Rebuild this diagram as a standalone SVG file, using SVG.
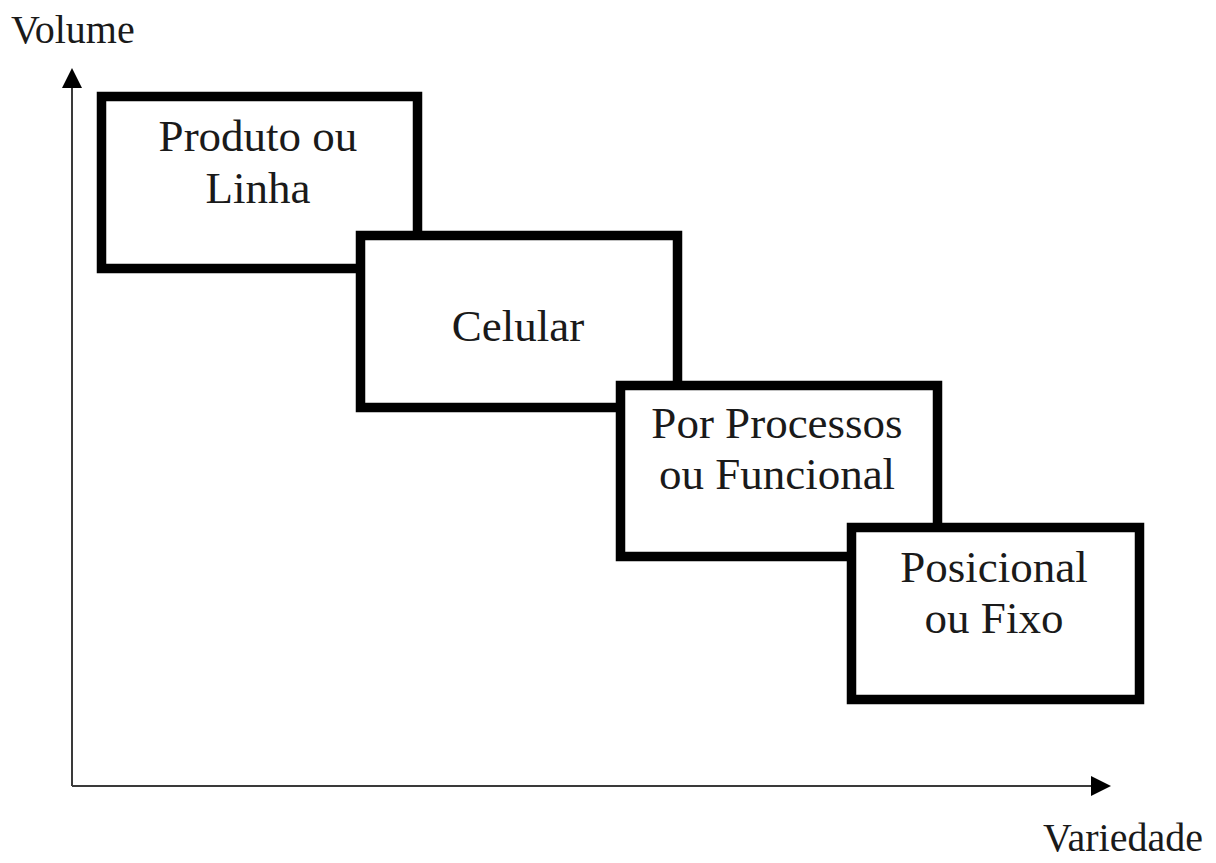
<svg xmlns="http://www.w3.org/2000/svg" width="1216" height="863" viewBox="0 0 1216 863">
<style>
  .box { fill: #ffffff; stroke: #000000; stroke-width: 9.5; }
  .lbl { font-family: "Liberation Serif", "Times New Roman", serif; font-size: 45px; fill: #1a1a1a; text-anchor: middle; }
  .ax { font-family: "Liberation Serif", "Times New Roman", serif; font-size: 40px; fill: #1a1a1a; }
  .axis { stroke: #3a3a3a; stroke-width: 2; fill: none; }
</style>
<defs>
  <marker id="arr" viewBox="0 0 20 20" refX="0" refY="10" markerWidth="20" markerHeight="20" markerUnits="userSpaceOnUse" orient="auto">
    <path d="M0,0 L20,10 L0,20 Z" fill="#000000"/>
  </marker>
</defs>
<rect width="1216" height="863" fill="#ffffff"/>
<g id="connectors">
  <path class="axis" d="M72,786 L72,88" marker-end="url(#arr)"/>
  <path class="axis" d="M72,786 L1091,786" marker-end="url(#arr)"/>
</g>
<text class="ax" x="11" y="43">Volume</text>
<text class="ax" x="1203" y="851" text-anchor="end">Variedade</text>
<g id="node-produto">
  <rect class="box" x="101.5" y="96.5" width="316" height="172"/>
  <text class="lbl" x="258" y="151">Produto ou</text>
  <text class="lbl" x="258" y="203">Linha</text>
</g>
<g id="node-celular">
  <rect class="box" x="360.5" y="235.5" width="317" height="172"/>
  <text class="lbl" x="518" y="341">Celular</text>
</g>
<g id="node-processos">
  <rect class="box" x="620.5" y="385.5" width="317" height="171"/>
  <text class="lbl" x="777" y="438">Por Processos</text>
  <text class="lbl" x="777" y="489">ou Funcional</text>
</g>
<g id="node-posicional">
  <rect class="box" x="851.5" y="527.5" width="288" height="172"/>
  <text class="lbl" x="994" y="582">Posicional</text>
  <text class="lbl" x="994" y="633">ou Fixo</text>
</g>
</svg>
